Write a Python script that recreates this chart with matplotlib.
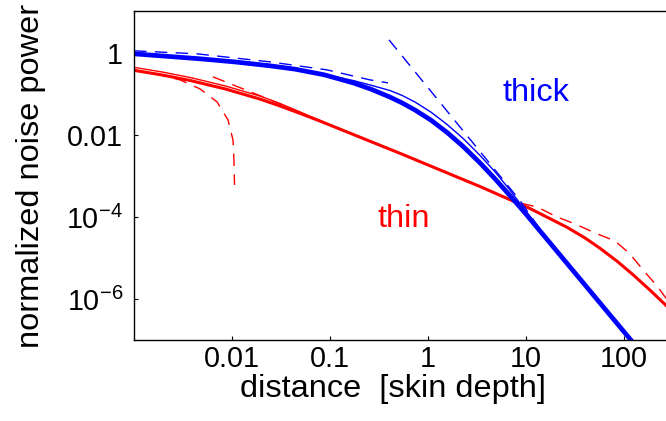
import numpy as np
import matplotlib
matplotlib.use("Agg")
import matplotlib.pyplot as plt

plt.rcParams['font.family'] = ['Liberation Sans', 'DejaVu Sans']
plt.rcParams['mathtext.fontset'] = 'custom'
plt.rcParams['mathtext.rm'] = 'Liberation Sans'

# curve values, stored as log10(x), log10(y)
# thick (half space) curves - blue
thick_logx = [-3.0, -2.327, -1.969, -1.612, -1.357, -1.061, -0.765, -0.582, -0.388,
              -0.265, -0.133, 0.031, 0.194, 0.357, 0.531, 0.684, 0.837, 0.990, 1.143,
              2.082, 2.571]
thick_logy = [-0.024, -0.145, -0.222, -0.316, -0.398, -0.534, -0.731, -0.885, -1.078,
              -1.219, -1.393, -1.641, -1.939, -2.278, -2.683, -3.071, -3.480, -3.902,
              -4.341, -7.034, -8.44]

thick_thin_logx = [-3.0, -2.327, -1.612, -1.061, -0.898, -0.745, -0.582, -0.388, -0.265,
                   -0.133, 0.031, 0.194, 0.357, 0.531, 0.684, 0.837, 0.990, 1.143, 1.296,
                   2.082, 2.571]
thick_thin_logy = [-0.024, -0.145, -0.316, -0.534, -0.607, -0.685, -0.788, -0.919, -1.037,
                   -1.198, -1.446, -1.744, -2.083, -2.500, -2.900, -3.346, -3.832, -4.317,
                   -4.780, -7.034, -8.44]

thick_near_logx = [-3.0, -2.357, -1.612, -1.031, -0.592, -0.408]
thick_near_logy = [0.049, -0.024, -0.220, -0.415, -0.659, -0.732]

thick_far_logx = [-0.398, 0.939, 1.143, 2.082, 2.571]
thick_far_logy = [0.317, -3.6, -4.30, -7.034, -8.44]

# thin film curves - red
thin_logx = [-3.0, -2.714, -2.429, -2.071, -1.714, -1.510, -1.306, -1.102, -0.286,
             0.531, 1.041, 1.418, 1.602, 1.755, 1.929, 2.092, 2.265, 2.429, 2.673]
thin_logy = [-0.427, -0.539, -0.673, -0.878, -1.127, -1.295, -1.476, -1.663, -2.449,
             -3.259, -3.795, -4.251, -4.512, -4.763, -5.078, -5.407, -5.783, -6.156, -6.756]

thin_thin_logx = [-3.0, -2.714, -2.429, -2.071, -1.714, -1.510, -1.306, -1.102, -0.898,
                  -0.286, 0.531, 1.041, 1.418, 1.602, 1.755, 1.929, 2.092, 2.265, 2.429, 2.673]
thin_thin_logy = [-0.354, -0.466, -0.600, -0.805, -1.054, -1.234, -1.439, -1.651, -1.856,
                  -2.449, -3.259, -3.795, -4.251, -4.512, -4.763, -5.078, -5.407, -5.783,
                  -6.156, -6.756]

thin_near_logx = [-3.0, -2.735, -2.531, -2.327, -2.153, -2.041, -1.990, -1.980, -1.974]
thin_near_logy = [-0.415, -0.537, -0.659, -0.878, -1.195, -1.634, -2.122, -2.610, -3.220]

thin_mid_logx = [-2.194, -1.684, -1.0, 0.122, 0.939, 1.112, 1.316, 1.5, 1.704, 1.908,
                 2.061, 2.204, 2.337, 2.429, 2.5]
thin_mid_logy = [-0.585, -1.073, -1.756, -2.854, -3.660, -3.756, -4.0, -4.170, -4.390,
                 -4.585, -4.900, -5.320, -5.680, -5.980, -6.2]

xticks = [0.01, 0.1, 1, 10, 100]
xticklabels = ['0.01', '0.1', '1', '10', '100']
yticks = [1, 1e-2, 1e-4, 1e-6]
yticklabels = ['1', '0.01', r'$\mathregular{10^{-4}}$', r'$\mathregular{10^{-6}}$']


def p(v):
    return 10.0 ** np.array(v)


fig = plt.figure(figsize=(6.66, 4.21), dpi=100)
ax = fig.add_axes([134 / 666, 81 / 421, 532 / 666, 329 / 421])

dash = (0, (9, 6))
ax.plot(p(thin_near_logx), p(thin_near_logy), color='red', lw=1.0, linestyle=dash)
ax.plot(p(thin_mid_logx), p(thin_mid_logy), color='red', lw=1.0, linestyle=dash)
ax.plot(p(thin_thin_logx), p(thin_thin_logy), color='red', lw=1.0)
ax.plot(p(thin_logx), p(thin_logy), color='red', lw=2.2)

ax.plot(p(thick_near_logx), p(thick_near_logy), color='blue', lw=1.0, linestyle=dash)
ax.plot(p(thick_far_logx), p(thick_far_logy), color='blue', lw=1.0, linestyle=dash)
ax.plot(p(thick_thin_logx), p(thick_thin_logy), color='blue', lw=1.0)
ax.plot(p(thick_logx), p(thick_logy), color='blue', lw=3.4)

ax.text(10 ** 1.102, 10 ** -1.171, 'thick', color='blue', fontsize=23.4,
        ha='center', va='baseline')
ax.text(10 ** -0.245, 10 ** -4.244, 'thin', color='red', fontsize=23.4,
        ha='center', va='baseline')

ax.set_xscale('log')
ax.set_yscale('log')
ax.set_xlim(1e-3, 10 ** 2.429)
ax.set_ylim(1e-7, 10 ** 1.02)

ax.set_xticks(xticks)
ax.set_xticklabels(xticklabels)
ax.set_yticks(yticks)
ax.set_yticklabels(yticklabels)
ax.minorticks_off()
ax.tick_params(direction='in', length=3, width=0.8, labelsize=20.7)
ax.tick_params(axis='x', pad=3.5)
ax.tick_params(axis='y', pad=8)
ax.spines['right'].set_visible(False)
for s in ['left', 'bottom', 'top']:
    ax.spines[s].set_linewidth(1.0)

ax.set_xlabel('distance  [skin depth]', fontsize=23.4)
ax.xaxis.label.set_va('baseline')
ax.xaxis.set_label_coords(392.5 / 666, 24 / 421, transform=fig.transFigure)
ax.set_ylabel('normalized noise power', fontsize=23.4)
ax.yaxis.set_label_coords(46 / 666, 245.5 / 421, transform=fig.transFigure)

fig.savefig('out.png', dpi=100)
